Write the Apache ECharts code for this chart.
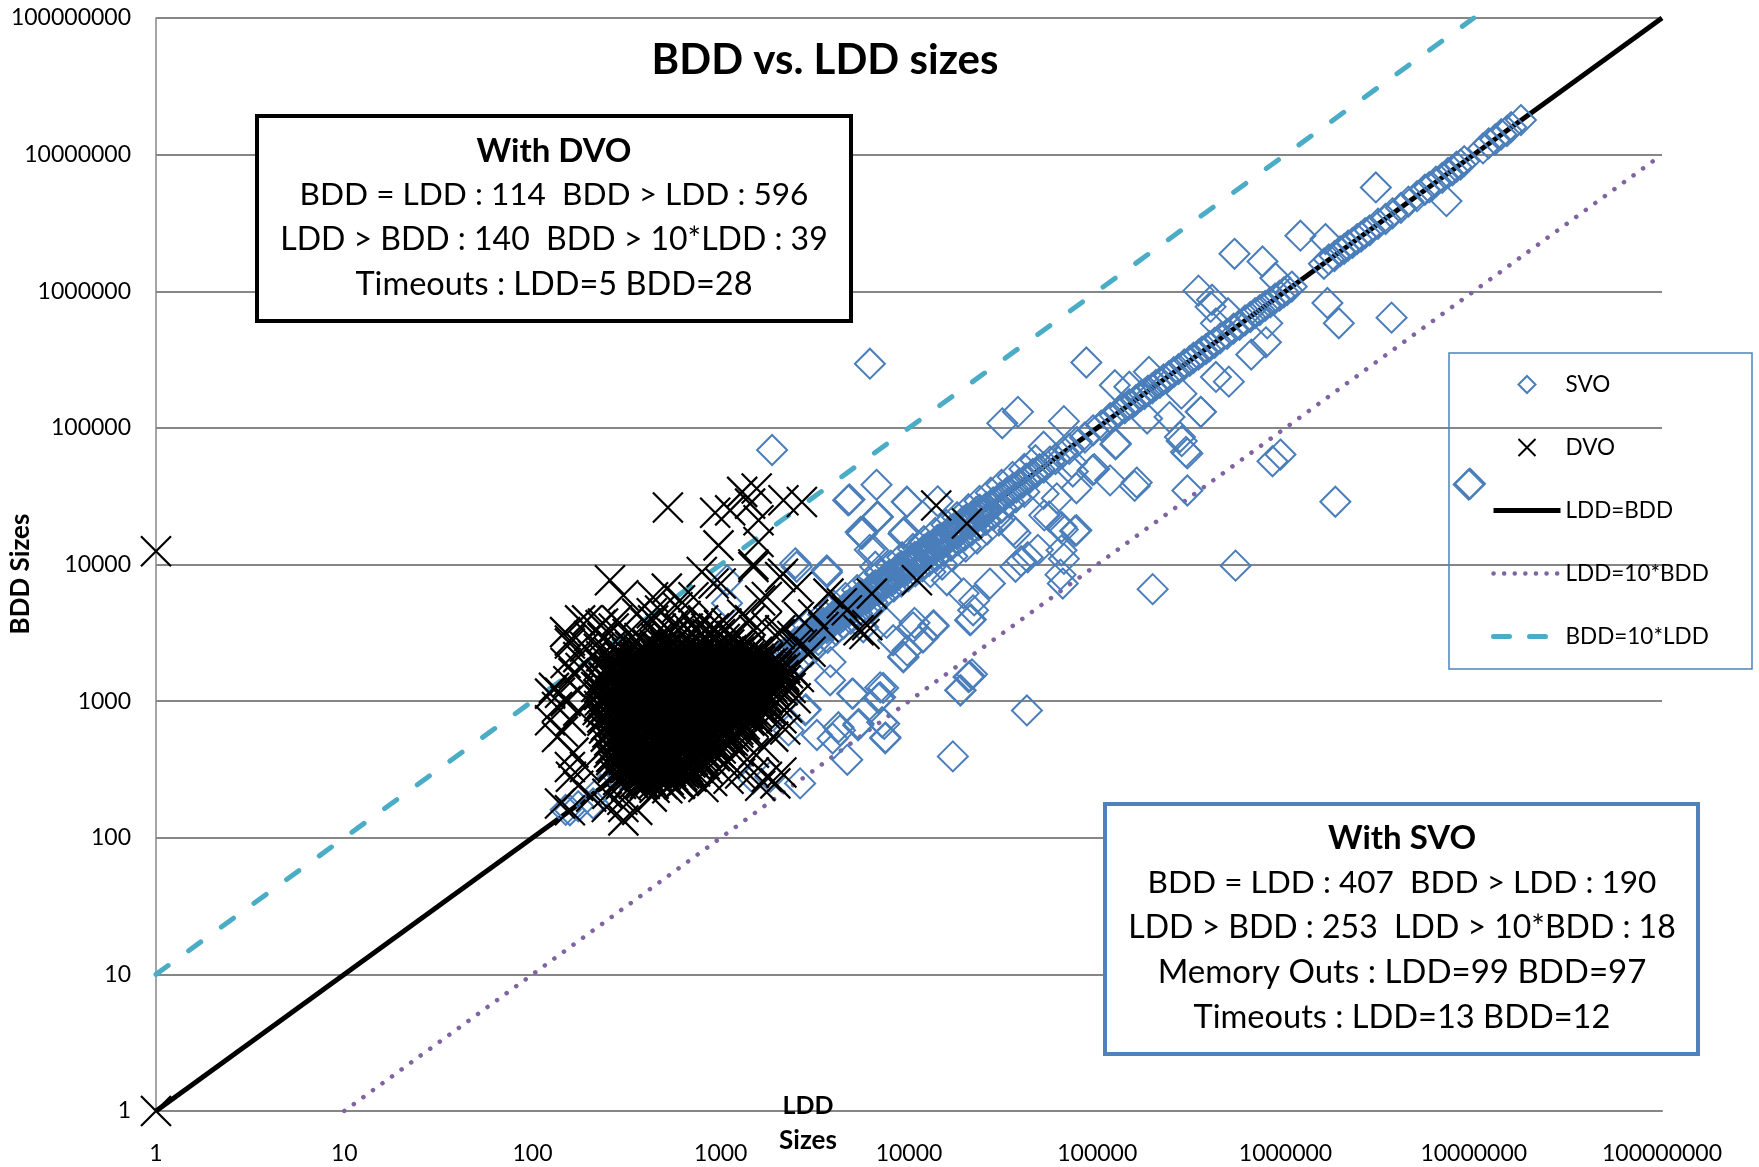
<!DOCTYPE html>
<html><head><meta charset="utf-8">
<style>html,body{margin:0;padding:0;background:#fff}#c{width:1759px;height:1167px}</style>
<script src="https://cdn.jsdelivr.net/npm/echarts@6/dist/echarts.min.js"></script></head>
<body><div id="c"></div>
<script>
const axisTicks = [1,10,100,1000,10000,100000,1000000,10000000,100000000];
const lineEqual = [[1,1],[100000000,100000000]];
const lineLddTen = [[10,1],[100000000,10000000]];
const lineBddTen = [[1,10],[10000000,100000000]];

const svoOutliers = [[6200,295000],[1874,68900],[4830,29900],[6720,38300],[6810,22500],[5620,17000],[9730,28800],[14200,29000],[31300,108000],[37900,131000],[87500,301000],[536000,1880000],[345000,1010000],[407000,867000],[755000,1650000],[1200000,2550000],[1630000,2410000],[3020000,5750000],[7160000,4570000],[1670000,820000],[1920000,583000],[3660000,641000],[787000,423000],[658000,344000],[500000,218000],[355000,131000],[281000,80000],[301000,65000],[301000,34800],[853000,57000],[940000,63800],[1840000,28800],[9550000,39000],[9400000,38500],[543000,9810],[197000,6600],[65600,7250],[63800,8430],[96400,49900],[162000,39800],[158000,37600],[66500,112000],[51900,72800],[125000,75700],[73200,55900],[74200,47900],[51900,32900],[76200,17600],[55600,22500],[65600,18000],[36800,17000],[48400,12800],[39400,10600],[66500,11000],[36800,9630],[26900,7250],[22200,5460],[21300,3960],[21600,1570],[21000,1520],[18800,1200],[42300,855],[17100,394],[7500,543],[7390,682],[5400,682],[4700,372],[4220,644],[3930,533],[3240,565],[2640,250],[7290,1250],[6900,1050],[5040,1135],[2830,871],[9330,2120],[11800,2930],[13500,3530],[10700,3740],[7600,3740],[3830,1930],[2530,9630],[3670,8770],[6190,12800],[6620,9630],[9770,28700],[6840,22300],[5620,16800],[9350,16800],[6460,12700],[2490,10200],[3660,9060],[124000,205000],[148000,200000],[188000,257000],[280000,178000],[355000,131000],[184000,117000],[242000,120000],[125500,77000],[275000,85700],[296000,66700],[117000,41300],[94500,49000],[77500,36100],[61000,30500],[52300,22900],[77500,17800],[64600,18800],[64600,12700],[42700,11300],[35800,17800],[9440,17300],[5540,17300],[6760,22300],[4750,29500],[883000,1250000],[400000,769000],[495000,690000],[427000,582000],[800000,582000],[427000,236000],[1490,272],[1830,279],[4300,611],[5370,665],[7480,534],[7200,700],[7030,1260],[7030,1067],[4990,1135],[2810,857],[2290,611],[3810,1420],[9330,2090],[11900,2930],[13500,3590],[10500,3470],[21100,3900],[18700,1200],[20700,1500],[158,159],[210,178],[1080,7660],[1080,5200],[3810,4860],[5710,3470],[8240,2790],[9780,2340],[15900,7660],[19500,6150],[21900,4620]];

const svoDiagonal = [[2000,1930],[2100,2160],[2200,2130],[2280,2340],[2400,2310],[2500,2580],[2600,2520],[2700,2760],[2800,2730],[2950,3020],[3050,2960],[3200,3280],[3300,3210],[3450,3520],[3600,3500],[3750,3840],[3900,3790],[4050,4150],[4200,4090],[4400,4500],[4550,4450],[4750,4850],[4950,4820],[5150,5270],[5350,5210],[5600,5720],[5800,5650],[6050,6200],[6300,6140],[6550,6700],[6800,6640],[7100,7260],[7400,7210],[7700,7870],[8000,7810],[8350,8540],[8700,8480],[9000,9210],[9400,9160],[9800,10000],[10200,9950],[10600,10800],[11000,10750],[11500,11700],[12000,11700],[12500,12800],[13000,12700],[13500,13800],[14100,13750],[14700,15000],[15300,14900],[15900,16200],[16600,16200],[17300,17600],[18000,17600],[18700,19000],[19500,19000],[20300,20700],[21100,20600],[22000,22400],[22900,22400],[23900,24300],[24800,24300],[25800,26200],[27000,26400],[28000,28500],[29200,28600],[30400,30900],[31700,31100],[33000,33500],[34300,33700],[35700,36200],[37200,36600],[38700,39200],[40300,39700],[42000,42500],[43700,43100],[45500,46000],[47400,46800],[49300,49900],[52000,51300],[56000,56700],[60000,59200],[66000,66800],[71000,70100],[78000,79000],[86000,85000],[95000,96000],[105000,104000],[117000,118000],[124000,123000],[131000,132000],[140000,139000],[148000,149000],[160000,159000],[170000,171000],[178000,177000],[186000,187000],[196000,195000],[205000,206000],[215000,214000],[225000,226000],[240000,239000],[255000,256000],[270000,269000],[290000,291000],[310000,309000],[325000,326000],[345000,344000],[360000,361000],[378000,377000],[395000,396000],[420000,419000],[450000,452000],[490000,488000],[530000,532000],[570000,568000],[610000,612000],[650000,648000],[690000,692000],[730000,728000],[780000,782000],[830000,828000],[880000,882000],[930000,928000],[980000,982000],[1020000,1018000],[1080000,1082000],[1600000,1590000],[1700000,1710000],[1820000,1810000],[1950000,1960000],[2050000,2040000],[2150000,2160000],[2270000,2260000],[2400000,2410000],[2520000,2510000],[2650000,2660000],[2800000,2790000],[3100000,3120000],[3400000,3380000],[3700000,3720000],[4100000,4080000],[4500000,4530000],[5000000,4970000],[5500000,5530000],[5800000,5770000],[6300000,6340000],[6800000,6760000],[7300000,7350000],[7700000,7660000],[8100000,8150000],[8500000,8460000],[8900000,8950000],[11200000,11100000],[12000000,12100000],[13000000,12900000],[14000000,14100000],[15000000,14900000],[15800000,15900000],[17800000,17900000],[150,160],[175,170],[230,225],[290,300],[360,350],[420,430],[520,510],[640,660],[780,760],[920,940],[1150,1120],[1350,1380],[1600,1570],[1800,1830]];

const svoNearBand = [[2300,1700],[2600,2000],[3000,2300],[3300,2800],[3700,2900],[4100,3300],[4500,3700],[4900,4000],[5300,4400],[5900,4800],[6400,5300],[7000,5700],[7600,6300],[8300,6900],[9100,7500],[9900,8200],[10800,8900],[11800,9700],[12800,10600],[14000,11500],[15300,12600],[16700,13700],[18200,15000],[19800,16300],[21600,17800],[23500,19400],[25600,21200],[28000,23000],[31000,26000],[34000,28500],[37000,31000],[41000,34000],[2500,3300],[2900,3600],[3500,4300],[4000,5000],[4600,5700],[5300,6500],[6100,7500],[7000,8600],[8000,9800],[9200,11300],[10500,13000],[12000,14800],[13800,17000],[15800,19500],[18000,22200],[20700,25400],[23700,29200],[27200,33500],[31000,38300],[35500,43800],[41000,50000],[47000,58000],[13000,8800],[15000,10000],[17000,11500],[20000,13500],[23000,15500],[26000,18000],[30000,21000]];

const svoBandFill = [[2450,2620],[2650,2470],[2880,3080],[3120,2910],[3380,3600],[3660,3420],[3960,4230],[4290,4010],[4640,4950],[5020,4700],[5430,5800],[5880,5500],[6370,6800],[6900,6450],[7470,7980],[8090,7560],[8760,9350],[9480,8870],[10270,10960],[11120,10400],[12040,12850],[13030,12200],[14110,15060],[15280,14300],[16540,17660],[17910,16760],[19390,20700],[21000,19650],[22730,24260],[24610,23030],[2560,2710],[2760,2600],[2990,3180],[3240,3040],[3510,3730],[3800,3570],[4120,4380],[4460,4190],[4830,5140],[5230,4910],[5660,6020],[6130,5760],[6640,7060],[7190,6750],[7790,8280],[8430,7920],[9130,9710],[9890,9290],[10710,11380],[11600,10900],[12560,13350],[13600,12780],[14730,15650],[15950,14980],[17270,18350],[18700,17560],[20250,21520],[21930,20600],[23750,25230],[25720,24150]];

const dvoSingles = [[1,1],[1,12500]];
const dvoSparse = [[524,26100],[934,23900],[1122,24900],[1552,36000],[1432,27900],[1300,34000],[2153,29500],[2698,28700],[1587,21100],[973,13800],[1587,14600],[1492,9600],[793,8800],[916,7250],[258,7660],[304,5950],[517,6660],[608,5470],[2068,8100],[1758,5780],[2537,6840],[3735,6120],[6351,6120],[11015,7660],[13950,27000],[20300,19950],[5395,3300],[4677,4620],[3515,3490],[4400,5200],[3100,4300],[2600,4130],[5800,3100],[6000,3600],[149,3200],[179,3900],[158,2640],[200,3000],[230,3600],[124,1135],[135,907],[124,724],[135,547],[158,330],[140,178],[158,159],[248,168],[304,168],[304,134],[608,249],[809,235],[1268,295],[1758,279],[1077,369],[1500,300],[1950,250],[2100,300],[1620,240],[1100,270],[900,260],[700,280],[520,230],[430,200],[360,160],[300,190],[250,210],[205,200],[175,240],[160,280],[190,330],[165,420],[145,600],[160,720],[175,850],[150,1000],[130,1250],[155,1400],[140,1150],[175,1200],[165,1600],[180,1750],[150,1900],[175,2100],[190,2500],[210,2150],[235,2900],[270,3400],[320,3100],[370,2900],[400,3700],[480,3400],[560,3600],[430,4400],[650,4200],[740,3300],[850,3100],[980,3600],[1150,3000],[1300,4300],[1500,3300],[1750,3500],[2050,3100],[2400,3000],[2700,2600],[3000,2300],[2400,1700],[2600,1500],[2350,1250],[2500,1050],[2250,900],[2100,750],[2200,620],[1900,550],[1700,460],[1500,420],[1250,430],[1050,350],[850,320],[700,300],
[589,4860],[437,5750],[716,5750],[1000,7250],[1490,10000],[2140,8570],[1430,3900],[2070,3300],[2550,2640],[1620,5460],[195,3900],[158,2780],[237,3700],[281,3900],[360,4370],[437,3900],[476,4610],[806,3900],[1072,3700]];

const dvoCore = [
[225,2420],[262,2540],[286,2360],[330,2500],[368,2380],[410,2540],[452,2420],[515,2510],[575,2360],[640,2480],[720,2380],[815,2520],[905,2410],[1030,2500],[1140,2370],[1290,2520],[1440,2400],
[232,2130],[256,2260],[292,2100],[318,2240],[362,2120],[396,2270],[455,2140],[496,2230],[570,2110],[622,2250],[700,2130],[790,2240],[890,2100],[1000,2220],[1150,2140],[1260,2250],[1410,2120],[1590,2230],[1780,2110],
[228,1860],[270,1970],[283,1850],[325,1960],[350,1880],[405,1990],[440,1870],[510,1950],[552,1840],[640,1960],[715,1880],[810,1990],[910,1850],[1020,1950],[1120,1890],[1280,1990],[1450,1860],[1620,1960],[1820,1880],[2030,1950],
[245,1650],[276,1740],[310,1670],[345,1760],[392,1640],[430,1730],[492,1680],[540,1760],[610,1650],[690,1730],[780,1690],[880,1760],[990,1650],[1100,1740],[1250,1680],[1390,1750],[1570,1640],[1770,1730],[1980,1670],[2200,1750],
[238,1480],[268,1530],[300,1450],[338,1540],[378,1470],[422,1560],[470,1490],[530,1540],[595,1460],[670,1530],[760,1490],[850,1550],[960,1470],[1080,1540],[1210,1480],[1360,1550],[1530,1460],[1720,1520],[1930,1480],[2160,1550],
[218,1270],[255,1360],[290,1290],[322,1370],[365,1300],[402,1380],[455,1280],[505,1370],[572,1300],[640,1380],[722,1290],[815,1360],[915,1310],[1030,1380],[1160,1290],[1310,1370],[1470,1300],[1650,1380],[1860,1280],[2090,1360],
[226,1110],[262,1190],[296,1130],[335,1210],[376,1120],[418,1190],[478,1140],[535,1210],[590,1120],[665,1200],[745,1130],[840,1210],[945,1110],[1060,1190],[1190,1140],[1340,1210],[1510,1120],[1700,1190],[1910,1130],[2130,1200],
[235,980],[272,1040],[305,970],[345,1030],[388,990],[435,1050],[492,960],[552,1030],[620,990],[695,1050],[785,970],[880,1040],[990,990],[1115,1050],[1250,970],[1400,1030],[1580,990],[1780,1050],[1990,970],
[222,860],[252,920],[286,870],[318,930],[358,850],[405,910],[448,870],[508,930],[568,850],[640,900],[720,870],[810,930],[910,860],[1020,910],[1150,880],[1290,930],[1450,860],[1630,900],[1830,870],
[235,760],[270,810],[304,750],[342,800],[385,770],[432,820],[485,750],[548,800],[612,770],[690,820],[775,750],[870,800],[980,770],[1100,820],[1240,750],[1390,800],[1560,770],[1720,810],
[245,660],[280,710],[315,650],[360,700],[402,670],[455,720],[512,650],[580,700],[650,670],[735,720],[825,650],[930,700],[1050,670],[1180,720],[1330,650],[1490,700],[1640,670],
[250,590],[288,620],[330,570],[372,630],[420,590],[470,620],[530,570],[600,630],[680,590],[760,620],[860,570],[970,630],[1090,590],[1240,620],[1400,570],
[258,510],[298,550],[340,500],[385,540],[435,520],[490,550],[550,500],[622,540],[700,510],[790,550],[900,500],[1020,530],[1160,510],
[265,450],[305,480],[350,440],[398,470],[450,450],[505,480],[570,430],[645,470],[730,450],[830,480],[940,440],
[262,390],[310,420],[355,380],[408,410],[462,390],[520,420],[590,380],[665,410],[760,390],
[272,345],[318,365],[368,335],[420,360],[480,340],[540,365],[610,335],[690,355],
[282,300],[330,320],[382,295],[440,315],[500,300],[565,320],[640,295],
[295,265],[350,285],[405,260],[465,280],[530,265],
[315,240],[380,250],[445,232]
];

const dvoRowBdd = [3400,3100,2850,2600,2450,2300,2150,2040,1920,1800,1700,1600,1510,1420,1340,1260,1190,1120,1060,1010,965,920,875,830,780,720,675,630,590,550,515,480,450,420,395,370,345,325,305,285,265,248];
const dvoRowLdd = [
[615,668,745,838,920],
[505,560,625,702,785,880,990],
[455,500,592,665,750,832,945,1050,1140],
[412,444,505,556,630,698,790,876,995,1110,1240],
[392,424,472,536,596,662,748,840,938,1058,1190,1330],
[372,394,450,498,564,622,706,782,884,988,1120,1250,1415,1560],
[348,382,428,470,534,600,670,742,836,942,1052,1180,1338,1498,1690],
[302,350,402,442,502,558,628,696,788,878,998,1112,1258,1408,1592,1776],
[288,340,374,422,480,528,594,660,752,830,948,1060,1188,1328,1502,1688,1895],
[272,314,360,392,452,496,566,620,708,780,886,985,1122,1248,1418,1580,1795,1990],
[258,294,334,384,430,468,538,602,672,740,842,936,1048,1178,1342,1492,1705,1890,2090],
[246,278,324,348,404,440,506,554,632,694,792,874,1000,1108,1262,1402,1595,1772,1990,2280],
[240,306,346,372,420,482,526,590,658,754,828,950,1062,1194,1325,1508,1682,1920,2180],
[228,290,312,362,390,454,494,568,618,710,778,888,982,1125,1245,1420,1578,1798,2020,2210],
[234,292,332,386,432,466,540,604,674,738,844,934,1046,1175,1345,1490,1708,1885,2120],
[226,276,326,346,406,438,508,552,634,692,794,872,1002,1105,1265,1400,1598,1770,1985],
[232,268,308,348,370,418,484,524,588,656,756,826,952,1064,1196,1322,1512,1680,1930],
[224,258,310,364,388,456,492,570,616,712,776,890,980,1128,1242,1422,1575,1800],
[236,290,330,388,434,464,542,606,676,736,846,932,1044,1172,1348,1488,1710],
[228,262,328,344,408,436,510,550,636,690,796,870,1004,1102,1268,1398,1600,1765],
[240,278,310,350,368,416,486,522,586,654,758,824,954,1066,1198,1320,1515,1678],
[226,264,294,326,366,386,458,490,572,614,714,774,892,978,1130,1240,1425,1572],
[238,280,312,352,390,436,462,544,608,678,734,848,930,1042,1170,1350,1485],
[232,268,296,324,342,410,434,512,548,638,688,798,868,1006,1100,1270,1395,1550],
[242,282,314,354,392,414,488,520,584,652,760,822,956,1068,1200,1300,1470],
[235,272,298,322,340,384,460,488,574,612,716,772,894,976,1132,1280,1420],
[248,284,316,356,394,438,460,546,610,680,732,850,928,1040,1190,1340],
[240,276,300,320,338,412,432,514,546,640,686,800,866,1008,1120,1300],
[252,286,318,358,396,440,490,518,582,650,762,820,900,1040,1240],
[245,290,302,330,372,414,458,516,576,642,684,770,880,1000,1170],
[256,292,322,360,398,442,492,544,612,678,730,860,960,1120],
[250,296,304,334,376,416,456,514,578,644,690,790,920,1070],
[260,298,326,362,400,444,494,548,614,670,760,860,1000],
[255,300,336,378,418,462,512,580,640,720,830,980],
[265,302,338,380,420,466,510,550,610,680,790,930],
[262,305,342,385,425,470,515,575,640,710,880],
[270,310,350,392,432,478,525,590,650,780,820],
[268,315,356,398,440,486,535,600,670,760],
[278,320,362,405,448,495,545,615,690,730],
[275,325,370,412,458,505,558,625,680],
[285,335,380,425,470,520,575,640],
[295,345,395,440,490,540,600]
];
const dvoRowPoints = dvoRowBdd.flatMap((b,i) => dvoRowLdd[i].map(l => [l,b]));

const fontName = 'Lato, Carlito, Calibri, sans-serif';
const logLabel = v => String(Math.round(v));
const crossPath = 'path://M0 0L10 10M10 0L0 10';
const diamondPath = 'path://M5 0L10 5L5 10L0 5Z';
const hiddenDot = {color:'rgba(0,0,0,0)',borderColor:'rgba(0,0,0,0)',borderWidth:0};

function boxText(text, x, y, size, bold){
  return {type:'text', z:21, style:{text, x, y, align:'center', verticalAlign:'middle',
    font:(bold?'bold ':'')+size+'px '+fontName, fill:'#000'}};
}
const chart = echarts.init(document.getElementById('c'), null, {renderer:'canvas'});
chart.setOption({
  animation:false,
  backgroundColor:'#fff',
  grid:{left:156,right:97,top:18,bottom:56,containLabel:false},
  xAxis:{type:'log',logBase:10,min:axisTicks[0],max:axisTicks[8],
    axisLine:{show:true,onZero:false,lineStyle:{color:'#868686',width:2}},
    axisTick:{show:false},minorTick:{show:false},splitLine:{show:false},
    axisLabel:{formatter:logLabel,margin:31,color:'#000',fontFamily:fontName,fontSize:23,showMinLabel:true,showMaxLabel:true,hideOverlap:false}},
  yAxis:{type:'log',logBase:10,min:axisTicks[0],max:axisTicks[8],
    axisLine:{show:true,onZero:false,lineStyle:{color:'#868686',width:1.5}},
    axisTick:{show:false},minorTick:{show:false},
    splitLine:{show:true,lineStyle:{color:'#868686',width:2}},
    axisLabel:{formatter:logLabel,margin:25,color:'#000',fontFamily:fontName,fontSize:23,showMinLabel:true,showMaxLabel:true,hideOverlap:false}},
  legend:{orient:'vertical',left:1486,top:368,itemWidth:67,itemHeight:17,itemGap:40,
    textStyle:{fontFamily:fontName,fontSize:22.5,color:'#000',padding:[0,0,0,0]},
    selectedMode:false,
    data:[
      {name:'SVO',icon:diamondPath},
      {name:'DVO',icon:crossPath},
      {name:'LDD=BDD',itemStyle:hiddenDot,lineStyle:{width:5,color:'#000'}},
      {name:'LDD=10*BDD',itemStyle:hiddenDot,lineStyle:{width:4.5,color:'#8064A2',cap:'round',type:[0.1,10.5]}},
      {name:'BDD=10*LDD',itemStyle:hiddenDot,lineStyle:{width:5,color:'#4BACC6',cap:'round',type:[16,20]}}
    ]},
  series:[
    {name:'LDD=BDD',type:'line',z:1,data:lineEqual,symbol:'none',silent:true,
      lineStyle:{color:'#000',width:5}},
    {name:'LDD=10*BDD',type:'line',z:1,data:lineLddTen,symbol:'none',silent:true,
      lineStyle:{color:'#8064A2',width:4.5,cap:'round',type:[0.1,11.7]}},
    {name:'BDD=10*LDD',type:'line',z:1,data:lineBddTen,symbol:'none',silent:true,
      lineStyle:{color:'#4BACC6',width:5,cap:'round',type:[15,25.35]}},
    {name:'SVO',type:'scatter',z:3,clip:false,symbol:'diamond',symbolSize:30,silent:true,
      data:svoOutliers.concat(svoDiagonal,svoNearBand,svoBandFill),
      itemStyle:{color:'rgba(255,255,255,0)',borderColor:'#4A7EBB',borderWidth:2,opacity:1}},
    {name:'DVO',type:'scatter',z:4,clip:false,symbol:crossPath,symbolSize:30,silent:true,
      data:dvoCore.concat(dvoRowPoints,dvoSparse,dvoSingles),
      itemStyle:{color:'none',borderColor:'#000',borderWidth:2.2,opacity:1}}
  ],
  graphic:{elements:[
    {type:'rect',z:20,shape:{x:257,y:116,width:594,height:205},style:{fill:'#fff',stroke:'#000',lineWidth:4}},
    boxText('With DVO',554,151,33,true),
    boxText('BDD = LDD : 114  BDD > LDD : 596',554,195,31.6),
    boxText('LDD > BDD : 140  BDD > 10*LDD : 39',554,240,32),
    boxText('Timeouts : LDD=5 BDD=28',554,285,32.5),
    {type:'rect',z:20,shape:{x:1105,y:804,width:593,height:250},style:{fill:'#fff',stroke:'#4F81BD',lineWidth:4}},
    boxText('With SVO',1402,838,33,true),
    boxText('BDD = LDD : 407  BDD > LDD : 190',1402,883,31.6),
    boxText('LDD > BDD : 253  LDD > 10*BDD : 18',1402,928,32),
    boxText('Memory Outs : LDD=99 BDD=97',1402,972,33),
    boxText('Timeouts : LDD=13 BDD=12',1402,1017,32.6),
    {type:'rect',z:20,shape:{x:1449,y:353,width:303,height:316},style:{fill:'none',stroke:'#4F81BD',lineWidth:1.5}},
    boxText('BDD vs. LDD sizes',825,60,42,true),
    boxText('LDD',808,1106,25,true),
    boxText('Sizes',808,1141,26,true),
    {type:'text',z:21,x:21,y:574,rotation:Math.PI/2,style:{text:'BDD Sizes',align:'center',verticalAlign:'middle',
      font:'bold 26px '+fontName,fill:'#000'}}
  ]}
});
</script></body></html>
